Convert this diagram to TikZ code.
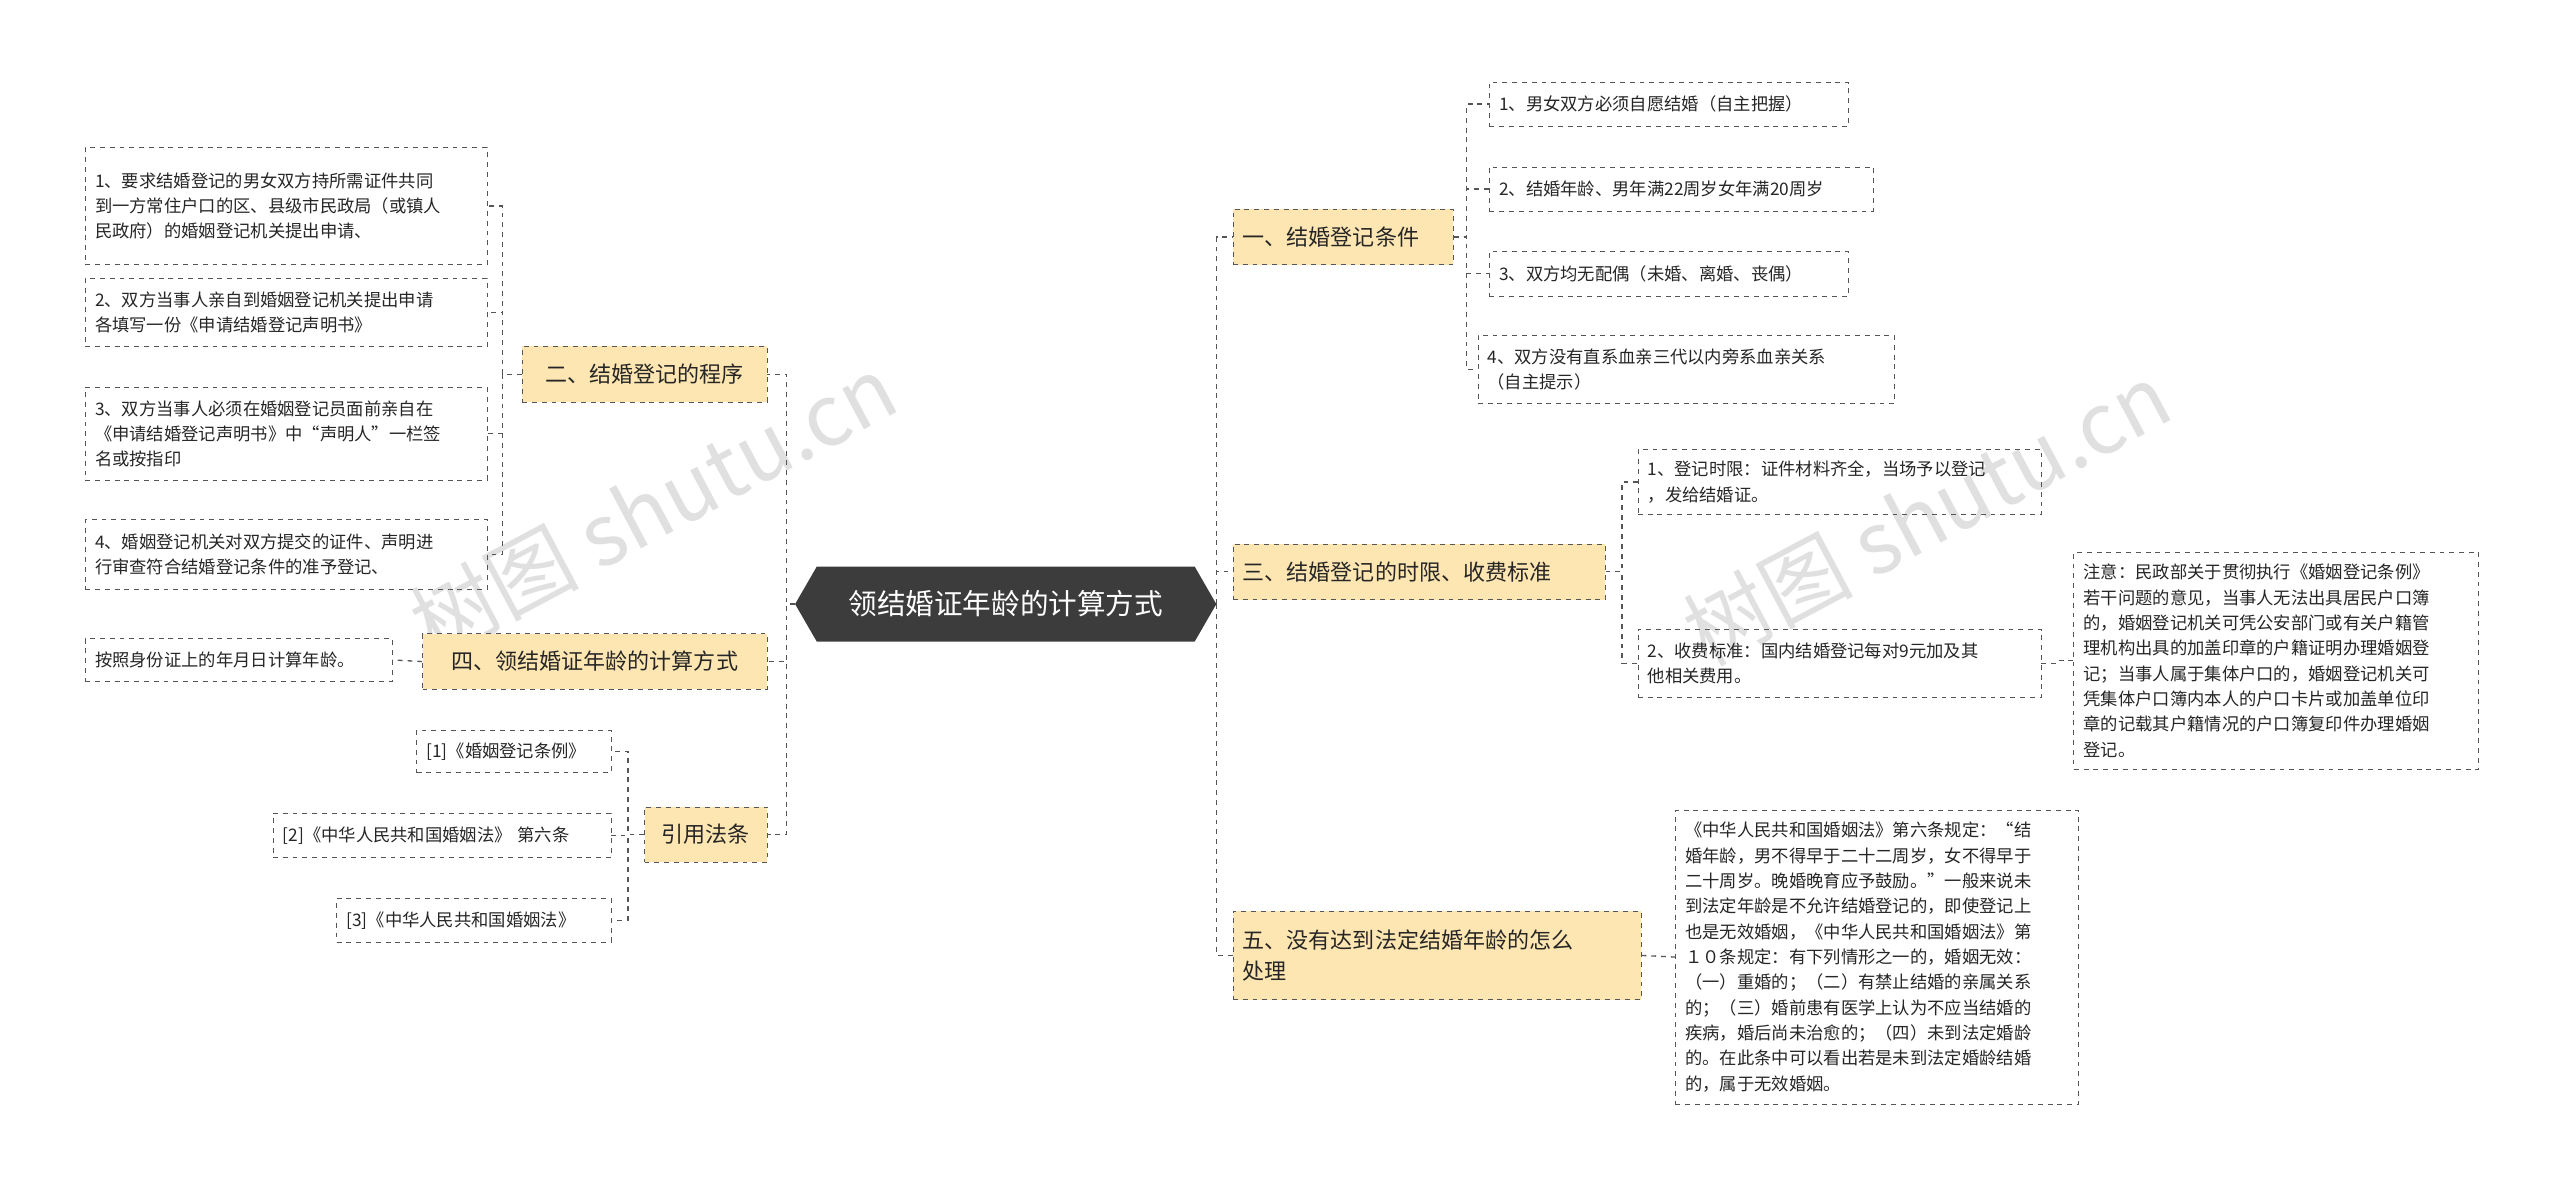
\documentclass[tikz,border=0pt]{standalone}
\usepackage{fontspec}
\setmainfont{Noto Sans CJK SC}
\usetikzlibrary{shapes.symbols}
\definecolor{boxy}{HTML}{FDE6B2}
\definecolor{dk}{HTML}{3C3C3C}
\definecolor{ln}{HTML}{555555}
\tikzset{
 leaf/.style={draw=ln,dashed,anchor=north west,align=left,inner sep=6pt,font=\fontsize{10.6}{15.5}\selectfont,text=black!85},
 lvl/.style={draw=ln,dashed,fill=boxy,anchor=north west,align=left,inner sep=6pt,font=\fontsize{13.5}{19}\selectfont,text=black!85},
 conn/.style={draw=ln,dashed,line width=0.8pt},
}
\newcommand{\bx}[7]{\node[#1,text width=\dimexpr #4pt-12pt\relax,minimum height=#5] (#2) at (#3) {#7};}
\begin{document}
\begin{tikzpicture}[x=1pt,y=1pt]
\useasboundingbox (0,0) rectangle (1568,-725);
\fill[white] (0,0) rectangle (1568,-725);
% watermark
\node[rotate=28,text=black!12,font=\fontsize{52}{52}\selectfont] (wm1) at (400,-310) {树图 shutu.cn};
\node[rotate=28,text=black!12,font=\fontsize{52}{52}\selectfont] (wm2) at (1180,-315) {树图 shutu.cn};
% center
\node[signal,signal to=east and west,signal pointer angle=120,fill=dk,text=white,font=\fontsize{17.5}{20}\selectfont,minimum width=258,minimum height=46,inner sep=4pt] (c) at (616,-370) {领结婚证年龄的计算方式};
% level 1
\bx{lvl}{r1}{755,-128}{135}{34}{}{一、结婚登记条件}
\bx{lvl}{r3}{755,-333}{228}{34}{}{三、结婚登记的时限、收费标准}
\bx{lvl}{r5}{755,-558}{250}{54}{}{五、没有达到法定结婚年龄的怎么\\处理}
\node[lvl,anchor=north east,minimum width=150,minimum height=34] (l2) at (470,-212) {二、结婚登记的程序};
\node[lvl,anchor=north east,minimum width=211,minimum height=34] (l4) at (470,-388) {四、领结婚证年龄的计算方式};
\node[lvl,anchor=north east,minimum width=75,minimum height=34] (l6) at (470,-494) {引用法条};
% R1 leaves
\bx{leaf}{a1}{912,-50}{220}{27}{}{1、男女双方必须自愿结婚（自主把握）}
\bx{leaf}{a2}{912,-102}{235}{27}{}{2、结婚年龄、男年满22周岁女年满20周岁}
\bx{leaf}{a3}{912,-154}{220}{27}{}{3、双方均无配偶（未婚、离婚、丧偶）}
\bx{leaf}{a4}{905,-205}{255}{42}{}{4、双方没有直系血亲三代以内旁系血亲关系\\（自主提示）}
% R3 leaves
\bx{leaf}{b1}{1003,-275}{247}{40}{}{1、登记时限：证件材料齐全，当场予以登记\\，发给结婚证。}
\bx{leaf}{b2}{1003,-385}{247}{42}{}{2、收费标准：国内结婚登记每对9元加及其\\他相关费用。}
\bx{leaf}{b3}{1270,-338}{248}{133}{}{注意：民政部关于贯彻执行《婚姻登记条例》\\若干问题的意见，当事人无法出具居民户口簿\\的，婚姻登记机关可凭公安部门或有关户籍管\\理机构出具的加盖印章的户籍证明办理婚姻登\\记；当事人属于集体户口的，婚姻登记机关可\\凭集体户口簿内本人的户口卡片或加盖单位印\\章的记载其户籍情况的户口簿复印件办理婚姻\\登记。}
% R5 leaf
\bx{leaf}{d1}{1026,-496}{247}{180}{}{《中华人民共和国婚姻法》第六条规定：“结\\婚年龄，男不得早于二十二周岁，女不得早于\\二十周岁。晚婚晚育应予鼓励。”一般来说未\\到法定年龄是不允许结婚登记的，即使登记上\\也是无效婚姻，《中华人民共和国婚姻法》第\\１０条规定：有下列情形之一的，婚姻无效：\\（一）重婚的；（二）有禁止结婚的亲属关系\\的；（三）婚前患有医学上认为不应当结婚的\\疾病，婚后尚未治愈的；（四）未到法定婚龄\\的。在此条中可以看出若是未到法定婚龄结婚\\的，属于无效婚姻。}
% L2 leaves
\bx{leaf}{e1}{52,-90}{246}{72}{}{1、要求结婚登记的男女双方持所需证件共同\\到一方常住户口的区、县级市民政局（或镇人\\民政府）的婚姻登记机关提出申请、}
\bx{leaf}{e2}{52,-170}{246}{42}{}{2、双方当事人亲自到婚姻登记机关提出申请\\各填写一份《申请结婚登记声明书》}
\bx{leaf}{e3}{52,-237}{246}{57}{}{3、双方当事人必须在婚姻登记员面前亲自在\\《申请结婚登记声明书》中“声明人”一栏签\\名或按指印}
\bx{leaf}{e4}{52,-318}{246}{43}{}{4、婚姻登记机关对双方提交的证件、声明进\\行审查符合结婚登记条件的准予登记、}
% L4 leaf
\bx{leaf}{f1}{52,-391}{188}{26}{}{按照身份证上的年月日计算年龄。}
% L6 leaves
\bx{leaf}{g1}{255,-447}{119}{26}{}{[1]《婚姻登记条例》}
\bx{leaf}{g2}{167,-498}{207}{27}{}{[2]《中华人民共和国婚姻法》 第六条}
\bx{leaf}{g3}{206,-550}{168}{27}{}{[3]《中华人民共和国婚姻法》}
% connectors
\foreach \t in {r1,r3,r5} \draw[conn] (c.east) -- ++(0,0) |- (\t.west);
\foreach \t in {l2,l4,l6} \draw[conn] (c.west) -- ++(-5,0) |- (\t.east);
\foreach \t in {a1,a2,a3,a4} \draw[conn] (r1.east) -- ++(8,0) |- (\t.west);
\foreach \t in {b1,b2} \draw[conn] (r3.east) -- ++(10,0) |- (\t.west);
\draw[conn] (b2.east) -- ++(10,0) |- (b3.west);
\draw[conn] (r5.east) -- (d1.west);
\foreach \t in {e1,e2,e3,e4} \draw[conn] (l2.west) -- ++(-12,0) |- (\t.east);
\draw[conn] (l4.west) -- (f1.east);
\foreach \t in {g1,g2,g3} \draw[conn] (l6.west) -- ++(-10,0) |- (\t.east);
\end{tikzpicture}
\end{document}
